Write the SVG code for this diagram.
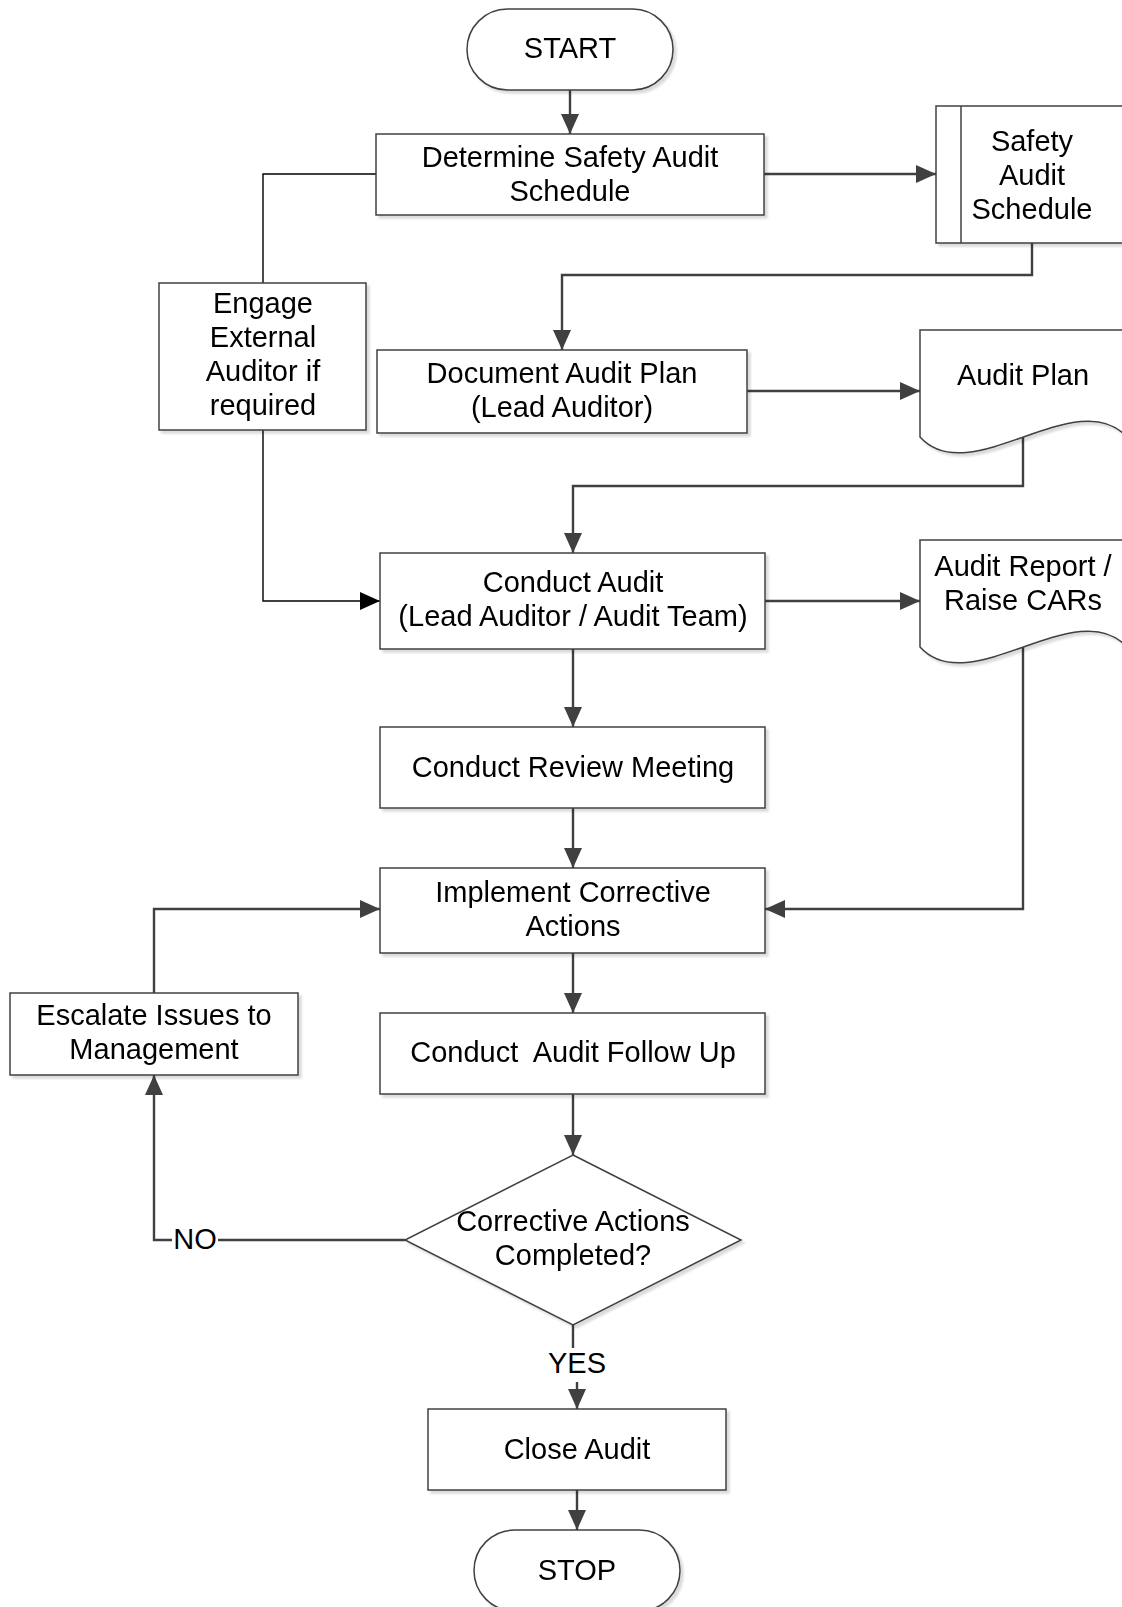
<svg xmlns="http://www.w3.org/2000/svg" width="1122" height="1607" viewBox="0 0 1122 1607">
<style>
.shape{fill:#fff;stroke:#404040;stroke-width:1.5}
.t{font-family:"Liberation Sans",Arial,sans-serif;font-size:29px;fill:#000;text-anchor:middle}
.c{fill:none;stroke:#404040;stroke-width:2.4}
.cb{fill:none;stroke:#000;stroke-width:1.4}
</style>
<defs>
<filter id="sh" x="-10%" y="-10%" width="130%" height="130%">
<feDropShadow dx="3" dy="3" stdDeviation="1" flood-color="#000" flood-opacity="0.14"/>
</filter>
<marker id="ah" markerWidth="22" markerHeight="20" refX="20" refY="9" orient="auto" markerUnits="userSpaceOnUse">
<path d="M0,0 L20,9 L0,18 Z" fill="#404040"/>
</marker>
<marker id="ahb" markerWidth="22" markerHeight="20" refX="20" refY="9" orient="auto" markerUnits="userSpaceOnUse">
<path d="M0,0 L20,9 L0,18 Z" fill="#000"/>
</marker>
</defs>

<g id="connectors">
<path class="c" d="M570,90 V134" marker-end="url(#ah)"/>
<path class="c" d="M764,174 H936" marker-end="url(#ah)"/>
<path class="c" d="M1032,243 V275 H562 V350" marker-end="url(#ah)"/>
<path class="c" d="M747,391 H920" marker-end="url(#ah)"/>
<path class="c" d="M1023,437 V486 H573 V553" marker-end="url(#ah)"/>
<path class="cb" d="M376,174 H263 V283"/>
<path class="cb" d="M263,430 V601 H380" marker-end="url(#ahb)"/>
<path class="c" d="M765,601 H920" marker-end="url(#ah)"/>
<path class="c" d="M573,649 V727" marker-end="url(#ah)"/>
<path class="c" d="M573,808 V868" marker-end="url(#ah)"/>
<path class="c" d="M1023,647 V909 H765" marker-end="url(#ah)"/>
<path class="c" d="M154,993 V909 H380" marker-end="url(#ah)"/>
<path class="c" d="M573,953 V1013" marker-end="url(#ah)"/>
<path class="c" d="M573,1094 V1155" marker-end="url(#ah)"/>
<path class="c" d="M405,1240 H154 V1075" marker-end="url(#ah)"/>
<path class="c" d="M573,1325 V1362 H577 V1409" marker-end="url(#ah)"/>
<path class="c" d="M577,1490 V1530" marker-end="url(#ah)"/>
<rect x="172" y="1226" width="46" height="28" fill="#fff"/>
<text class="t" x="195" y="1249">NO</text>
<rect x="545" y="1348" width="64" height="34" fill="#fff"/>
<text class="t" x="577" y="1373">YES</text>
</g>

<g id="start" filter="url(#sh)">
<rect class="shape" x="467" y="9" width="206" height="81" rx="40.5"/>
<text class="t" x="570" y="58">START</text>
</g>

<g id="determine" filter="url(#sh)">
<rect class="shape" x="376" y="134" width="388" height="81"/>
<text class="t" x="570" y="167">Determine Safety Audit</text>
<text class="t" x="570" y="201">Schedule</text>
</g>

<g id="safety-schedule" filter="url(#sh)">
<rect class="shape" x="936" y="106" width="192" height="137"/>
<line x1="961" y1="106" x2="961" y2="243" stroke="#404040" stroke-width="1.5"/>
<text class="t" x="1032" y="151">Safety</text>
<text class="t" x="1032" y="185">Audit</text>
<text class="t" x="1032" y="219">Schedule</text>
</g>

<g id="engage" filter="url(#sh)">
<rect class="shape" x="159" y="283" width="207" height="147"/>
<text class="t" x="263" y="313">Engage</text>
<text class="t" x="263" y="347">External</text>
<text class="t" x="263" y="381">Auditor if</text>
<text class="t" x="263" y="415">required</text>
</g>

<g id="document-plan" filter="url(#sh)">
<rect class="shape" x="377" y="350" width="370" height="83"/>
<text class="t" x="562" y="383">Document Audit Plan</text>
<text class="t" x="562" y="417">(Lead Auditor)</text>
</g>

<g id="audit-plan" filter="url(#sh)">
<path class="shape" d="M920,330 H1127 V437 C1077,382 970,492 920,437 Z"/>
<text class="t" x="1023" y="385">Audit Plan</text>
</g>

<g id="conduct-audit" filter="url(#sh)">
<rect class="shape" x="380" y="553" width="385" height="96"/>
<text class="t" x="573" y="592">Conduct Audit</text>
<text class="t" x="573" y="626">(Lead Auditor / Audit Team)</text>
</g>

<g id="audit-report" filter="url(#sh)">
<path class="shape" d="M920,540 H1127 V647 C1077,592 970,702 920,647 Z"/>
<text class="t" x="1023" y="576">Audit Report /</text>
<text class="t" x="1023" y="610">Raise CARs</text>
</g>

<g id="review" filter="url(#sh)">
<rect class="shape" x="380" y="727" width="385" height="81"/>
<text class="t" x="573" y="777">Conduct Review Meeting</text>
</g>

<g id="implement" filter="url(#sh)">
<rect class="shape" x="380" y="868" width="385" height="85"/>
<text class="t" x="573" y="902">Implement Corrective</text>
<text class="t" x="573" y="936">Actions</text>
</g>

<g id="escalate" filter="url(#sh)">
<rect class="shape" x="10" y="993" width="288" height="82"/>
<text class="t" x="154" y="1025">Escalate Issues to</text>
<text class="t" x="154" y="1059">Management</text>
</g>

<g id="follow-up" filter="url(#sh)">
<rect class="shape" x="380" y="1013" width="385" height="81"/>
<text class="t" x="573" y="1062" xml:space="preserve">Conduct  Audit Follow Up</text>
</g>

<g id="decision" filter="url(#sh)">
<polygon class="shape" points="573,1155 741,1240 573,1325 405,1240"/>
<text class="t" x="573" y="1231">Corrective Actions</text>
<text class="t" x="573" y="1265">Completed?</text>
</g>

<g id="close" filter="url(#sh)">
<rect class="shape" x="428" y="1409" width="298" height="81"/>
<text class="t" x="577" y="1459">Close Audit</text>
</g>

<g id="stop" filter="url(#sh)">
<rect class="shape" x="474" y="1530" width="206" height="81" rx="40.5"/>
<text class="t" x="577" y="1580">STOP</text>
</g>
</svg>
